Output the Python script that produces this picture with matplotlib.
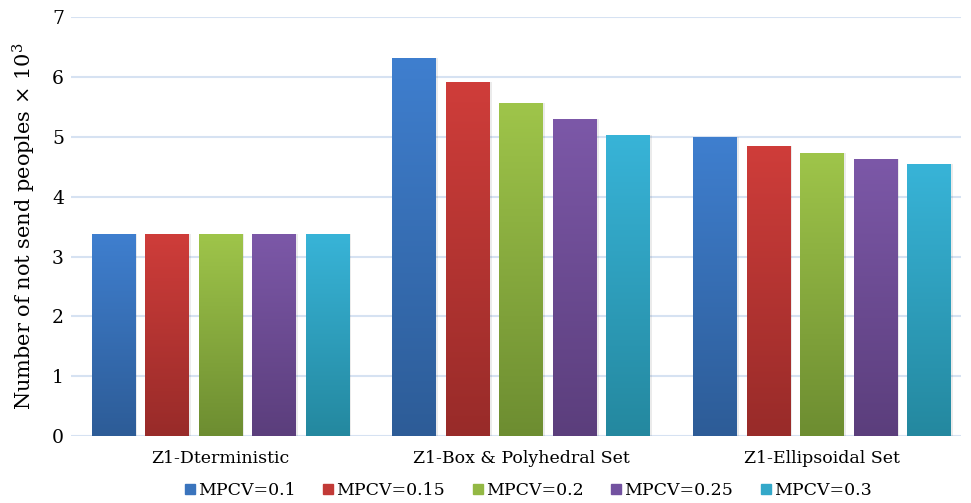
import matplotlib
matplotlib.use("Agg")
import matplotlib.pyplot as plt
import numpy as np
from matplotlib.colors import LinearSegmentedColormap
from matplotlib.lines import Line2D

categories = ["Z1-Dterministic", "Z1-Box & Polyhedral Set", "Z1-Ellipsoidal Set"]
series_names = ["MPCV=0.1", "MPCV=0.15", "MPCV=0.2", "MPCV=0.25", "MPCV=0.3"]
mpcv_01 = [3.38, 6.32, 5.00]
mpcv_015 = [3.38, 5.91, 4.85]
mpcv_02 = [3.38, 5.57, 4.73]
mpcv_025 = [3.38, 5.29, 4.63]
mpcv_03 = [3.38, 5.03, 4.55]
series_values = [mpcv_01, mpcv_015, mpcv_02, mpcv_025, mpcv_03]
yticks = [0, 1, 2, 3, 4, 5, 6, 7]

top_colors = ["#3f7fcf", "#cf3d3a", "#9fc54a", "#7c58a8", "#38b4d8"]
bot_colors = ["#2d5c97", "#982b29", "#6d8d31", "#5b3e7c", "#24889f"]
legend_colors = ["#3a74bd", "#c23a37", "#93b844", "#7352a0", "#33a8c9"]

plt.rcParams['font.family'] = ['DejaVu Serif']
plt.rcParams['mathtext.fontset'] = 'dejavuserif'

fig = plt.figure(figsize=(9.71, 5.03), dpi=100)
ax = fig.add_axes([0.073, 0.133, 0.917, 0.833])

step = 0.178
width = 0.146
n = len(series_names)
x = np.arange(len(categories))

grad = np.linspace(1, 0, 256).reshape(-1, 1)
for i in range(n):
    cmap = LinearSegmentedColormap.from_list("g%d" % i, [bot_colors[i], top_colors[i]])
    offs = (i - (n - 1) / 2) * step
    bars = ax.bar(x + offs, series_values[i], width, color=top_colors[i], zorder=2,
                  edgecolor="none")
    for b in bars:
        bx, by = b.get_x(), b.get_y()
        w, h = b.get_width(), b.get_height()
        ax.bar(bx + w / 2 + 0.006, h, w, bottom=by, color="#000000", alpha=0.08,
               zorder=1.5, edgecolor="none")
        im = ax.imshow(grad, extent=[bx, bx + w, by, by + h], cmap=cmap,
                       aspect="auto", zorder=3, origin="upper", vmin=0, vmax=1)
        im.set_clip_path(b)

ax.set_xlim(-0.498, 2.463)
ax.set_ylim(0, 7)
ax.set_yticks(yticks)
ax.set_xticks(x)
ax.set_xticklabels(categories, fontsize=12.5)
ax.tick_params(axis="y", labelsize=13.5, length=0, pad=5)
ax.tick_params(axis="x", length=0, pad=10)
ax.grid(axis="y", color="#d6e2f2", linewidth=1.5, zorder=0)
ax.set_axisbelow(True)
for s in ax.spines.values():
    s.set_visible(False)
ax.set_ylabel(r"Number of not send peoples $\times$ 10$^3$", fontsize=15, labelpad=10)

handles = [Line2D([], [], marker="s", linestyle="none", markersize=7,
                  markerfacecolor=c, markeredgecolor=c) for c in legend_colors]
fig.legend(handles, series_names, loc="lower center", bbox_to_anchor=(0.543, -0.024),
           ncol=5, frameon=False, fontsize=12.5, handletextpad=0.05, columnspacing=1.5,
           handlelength=0.8)

fig.savefig("out.png", dpi=100)
